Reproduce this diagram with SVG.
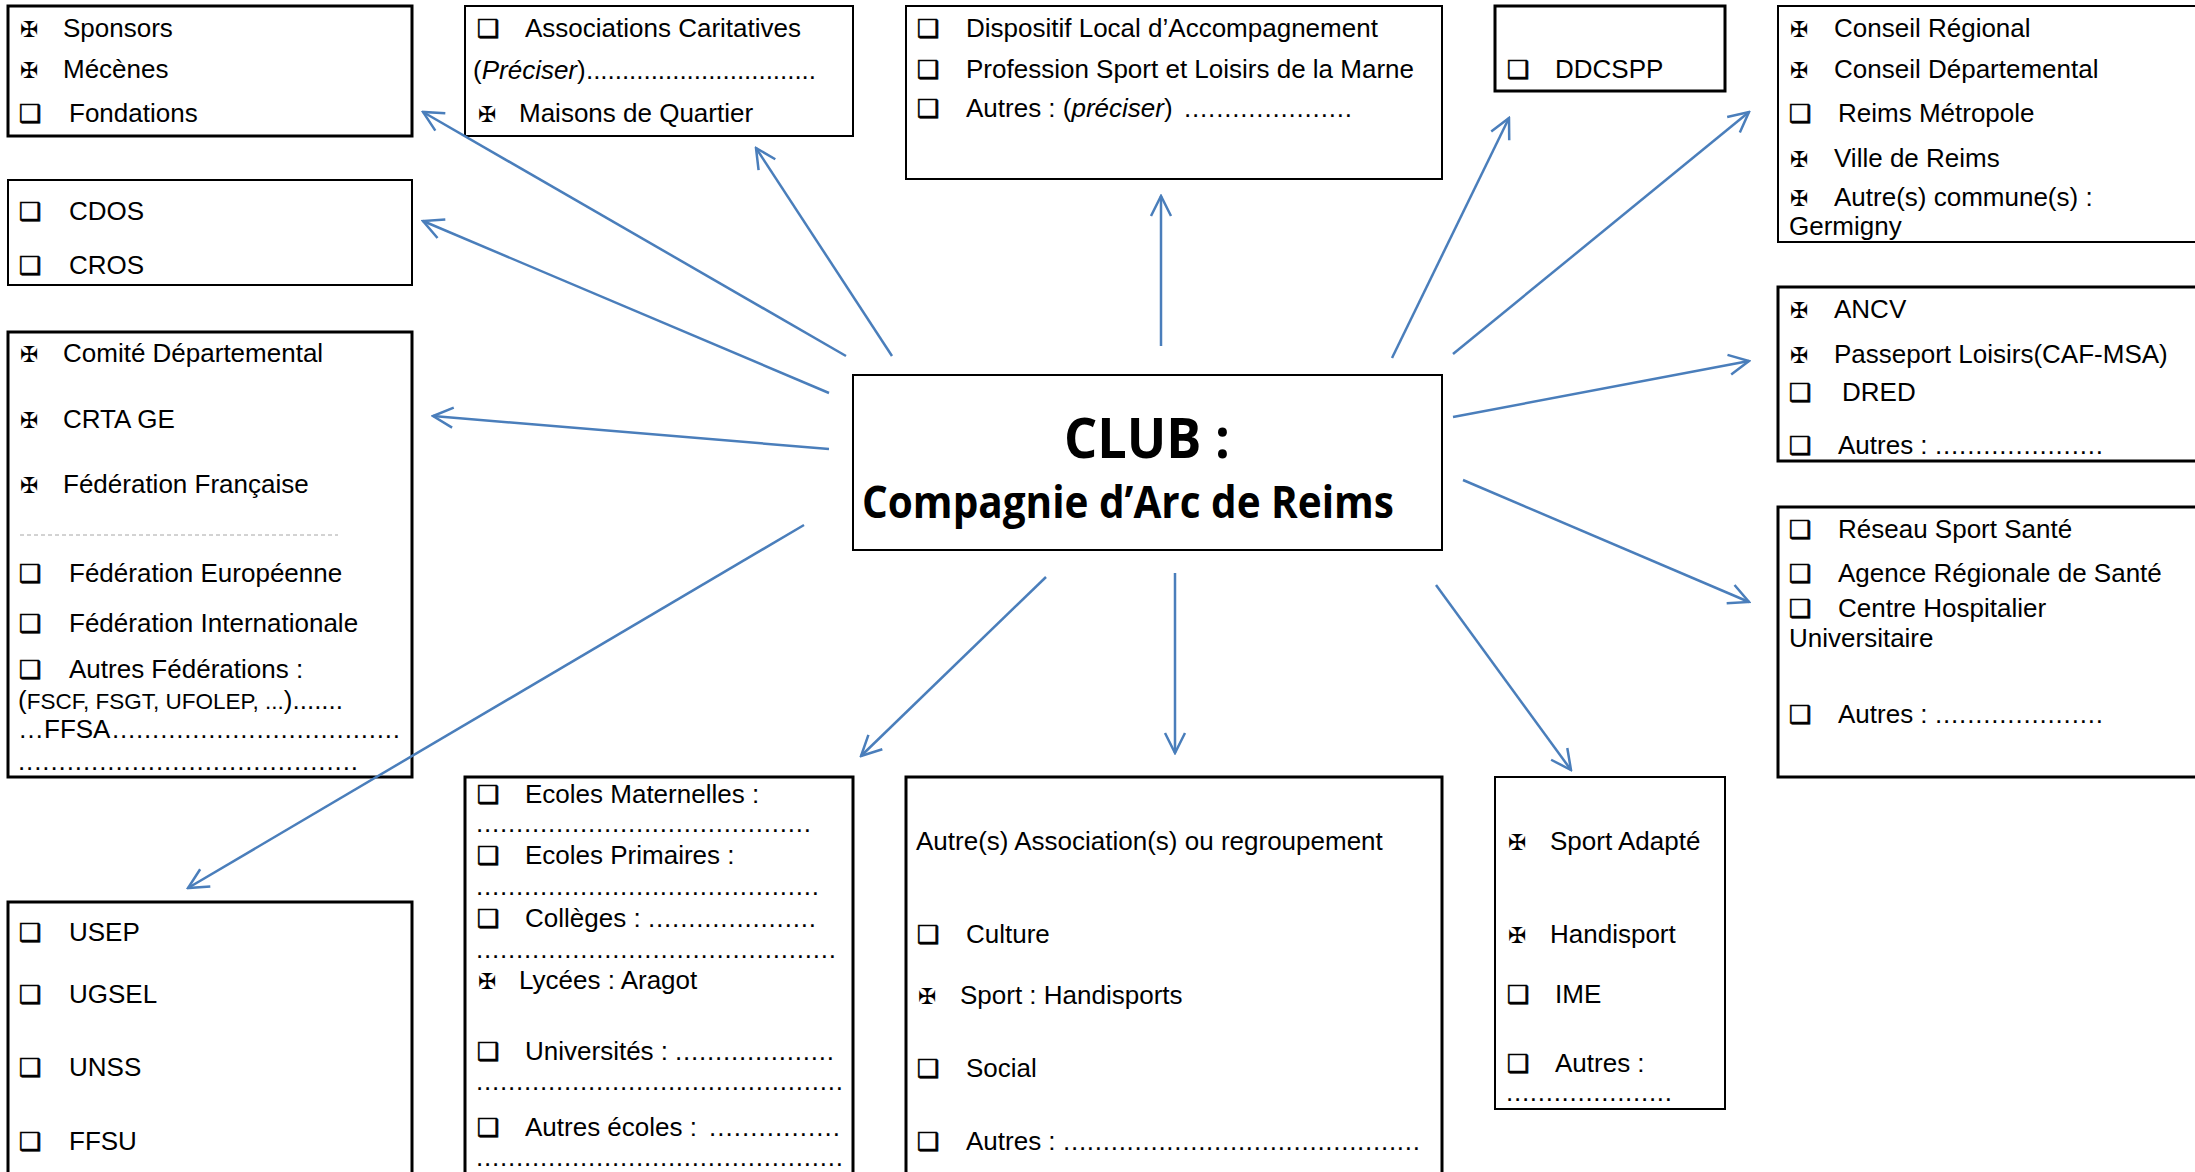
<svg xmlns="http://www.w3.org/2000/svg" width="2195" height="1172" viewBox="0 0 2195 1172">
<style>
.t{font-family:"Liberation Sans",Arial,sans-serif;font-size:26px;fill:#000}
.b{font-family:"DejaVu Sans",sans-serif;font-size:22px;fill:#000}
.q{font-family:"DejaVu Sans",sans-serif;font-size:25px;fill:#000;stroke:#000;stroke-width:0.6}
.box{fill:#fff;stroke:#000;stroke-width:2}
.thick{stroke-width:3}
.conn{stroke:#4A7EBB;stroke-width:2.5;fill:none;marker-end:url(#arr)}
.club{font-family:"Open Sans","Liberation Sans",sans-serif;font-weight:bold;fill:#000}
</style>
<defs>
<marker id="arr" viewBox="0 0 24 24" refX="22" refY="12" markerWidth="24" markerHeight="24" markerUnits="userSpaceOnUse" orient="auto">
<path d="M2,2 L22,12 L2,22" fill="none" stroke="#4A7EBB" stroke-width="2.5"/>
</marker>
</defs>
<rect width="2195" height="1172" fill="#fff"/>

<g id="sponsors">
<rect class="box thick" x="8" y="6" width="404" height="130"/>
<text class="b" x="20" y="37">✠</text><text class="t" x="63" y="37">Sponsors</text>
<text class="b" x="20" y="78">✠</text><text class="t" x="63" y="78">Mécènes</text>
<text class="q" x="19" y="122">❑</text><text class="t" x="69" y="122">Fondations</text>
</g>

<g id="cdos">
<rect class="box" x="8" y="180" width="404" height="105"/>
<text class="q" x="19" y="220">❑</text><text class="t" x="69" y="220">CDOS</text>
<text class="q" x="19" y="274">❑</text><text class="t" x="69" y="274">CROS</text>
</g>

<g id="federations">
<rect class="box thick" x="8" y="332" width="404" height="445"/>
<text class="b" x="20" y="362">✠</text><text class="t" x="63" y="362">Comité Départemental</text>
<text class="b" x="20" y="428">✠</text><text class="t" x="63" y="428">CRTA GE</text>
<text class="b" x="20" y="493">✠</text><text class="t" x="63" y="493">Fédération Française</text>
<line x1="20" y1="535" x2="338" y2="535" stroke="#a6a6a6" stroke-width="1" stroke-dasharray="4,3"/>
<text class="q" x="19" y="582">❑</text><text class="t" x="69" y="582">Fédération Européenne</text>
<text class="q" x="19" y="632">❑</text><text class="t" x="69" y="632">Fédération Internationale</text>
<text class="q" x="19" y="678">❑</text><text class="t" x="69" y="678">Autres Fédérations :</text>
<text class="t" x="18" y="709">(<tspan font-size="22.5">FSCF, FSGT, UFOLEP, ...</tspan>).......</text>
<text class="t" x="18" y="738">…FFSA</text><text class="t" x="112" y="738" textLength="288">....................................</text>
<text class="t" x="18" y="770" textLength="340">..........................................</text>
</g>

<g id="scolaire-federations">
<rect class="box thick" x="8" y="902" width="404" height="290"/>
<text class="q" x="19" y="941">❑</text><text class="t" x="69" y="941">USEP</text>
<text class="q" x="19" y="1003">❑</text><text class="t" x="69" y="1003">UGSEL</text>
<text class="q" x="19" y="1076">❑</text><text class="t" x="69" y="1076">UNSS</text>
<text class="q" x="19" y="1150">❑</text><text class="t" x="69" y="1150">FFSU</text>
</g>

<g id="associations">
<rect class="box" x="465" y="6" width="388" height="130"/>
<text class="q" x="477" y="37">❑</text><text class="t" x="525" y="37">Associations Caritatives</text>
<text class="t" x="473" y="79">(<tspan font-style="italic">Préciser</tspan>)</text><text class="t" x="586" y="79" textLength="230">................................</text>
<text class="b" x="478" y="122">✠</text><text class="t" x="519" y="122">Maisons de Quartier</text>
</g>

<g id="dispositif">
<rect class="box" x="906" y="6" width="536" height="173"/>
<text class="q" x="917" y="37">❑</text><text class="t" x="966" y="37">Dispositif Local d’Accompagnement</text>
<text class="q" x="917" y="78">❑</text><text class="t" x="966" y="78">Profession Sport et Loisirs de la Marne</text>
<text class="q" x="917" y="117">❑</text><text class="t" x="966" y="117">Autres : (<tspan font-style="italic">préciser</tspan>)</text><text class="t" x="1184" y="117" textLength="168">.....................</text>
</g>

<g id="ddcspp">
<rect class="box thick" x="1495" y="6" width="230" height="85"/>
<text class="q" x="1507" y="78">❑</text><text class="t" x="1555" y="78">DDCSPP</text>
</g>

<g id="collectivites">
<rect class="box" x="1778" y="6" width="430" height="236"/>
<text class="b" x="1790" y="37">✠</text><text class="t" x="1834" y="37">Conseil Régional</text>
<text class="b" x="1790" y="78">✠</text><text class="t" x="1834" y="78">Conseil Départemental</text>
<text class="q" x="1789" y="122">❑</text><text class="t" x="1838" y="122">Reims Métropole</text>
<text class="b" x="1790" y="167">✠</text><text class="t" x="1834" y="167">Ville de Reims</text>
<text class="b" x="1790" y="206">✠</text><text class="t" x="1834" y="206">Autre(s) commune(s) :</text>
<text class="t" x="1789" y="235">Germigny</text>
</g>

<g id="ancv">
<rect class="box thick" x="1778" y="287" width="430" height="174"/>
<text class="b" x="1790" y="318">✠</text><text class="t" x="1834" y="318">ANCV</text>
<text class="b" x="1790" y="363">✠</text><text class="t" x="1834" y="363">Passeport Loisirs(CAF-MSA)</text>
<text class="q" x="1789" y="401">❑</text><text class="t" x="1842" y="401">DRED</text>
<text class="q" x="1789" y="454">❑</text><text class="t" x="1838" y="454">Autres : </text><text class="t" x="1935" y="454" textLength="168">.....................</text>
</g>

<g id="sante">
<rect class="box thick" x="1778" y="507" width="430" height="270"/>
<text class="q" x="1789" y="538">❑</text><text class="t" x="1838" y="538">Réseau Sport Santé</text>
<text class="q" x="1789" y="582">❑</text><text class="t" x="1838" y="582">Agence Régionale de Santé</text>
<text class="q" x="1789" y="617">❑</text><text class="t" x="1838" y="617">Centre Hospitalier</text>
<text class="t" x="1789" y="647">Universitaire</text>
<text class="q" x="1789" y="723">❑</text><text class="t" x="1838" y="723">Autres : </text><text class="t" x="1935" y="723" textLength="168">.....................</text>
</g>

<g id="club">
<rect class="box" x="853" y="375" width="589" height="175"/>
<text class="club" x="1064" y="458" font-size="56" textLength="166" lengthAdjust="spacingAndGlyphs">CLUB :</text>
<text class="club" x="862" y="518" font-size="44" textLength="532" lengthAdjust="spacingAndGlyphs">Compagnie d’Arc de Reims</text>
</g>

<g id="ecoles">
<rect class="box thick" x="465" y="777" width="388" height="420"/>
<text class="q" x="477" y="803">❑</text><text class="t" x="525" y="803">Ecoles Maternelles :</text>
<text class="t" x="476" y="832" textLength="335">..........................................</text>
<text class="q" x="477" y="864">❑</text><text class="t" x="525" y="864">Ecoles Primaires :</text>
<text class="t" x="476" y="895" textLength="343">...........................................</text>
<text class="q" x="477" y="927">❑</text><text class="t" x="525" y="927">Collèges : </text><text class="t" x="648" y="927" textLength="168">.....................</text>
<text class="t" x="476" y="958" textLength="360">.............................................</text>
<text class="b" x="478" y="989">✠</text><text class="t" x="519" y="989">Lycées : Aragot</text>
<text class="q" x="477" y="1060">❑</text><text class="t" x="525" y="1060">Universités : </text><text class="t" x="675" y="1060" textLength="159">....................</text>
<text class="t" x="476" y="1090" textLength="367">..............................................</text>
<text class="q" x="477" y="1136">❑</text><text class="t" x="525" y="1136">Autres écoles : </text><text class="t" x="709" y="1136" textLength="131">................</text>
<text class="t" x="476" y="1166" textLength="367">..............................................</text>
</g>

<g id="autres-associations">
<rect class="box thick" x="906" y="777" width="536" height="420"/>
<text class="t" x="916" y="850">Autre(s) Association(s) ou regroupement</text>
<text class="q" x="917" y="943">❑</text><text class="t" x="966" y="943">Culture</text>
<text class="b" x="918" y="1004">✠</text><text class="t" x="960" y="1004">Sport : Handisports</text>
<text class="q" x="917" y="1077">❑</text><text class="t" x="966" y="1077">Social</text>
<text class="q" x="917" y="1150">❑</text><text class="t" x="966" y="1150">Autres : </text><text class="t" x="1063" y="1150" textLength="357">.............................................</text>
</g>

<g id="handicap">
<rect class="box" x="1495" y="777" width="230" height="332"/>
<text class="b" x="1508" y="850">✠</text><text class="t" x="1550" y="850">Sport Adapté</text>
<text class="b" x="1508" y="943">✠</text><text class="t" x="1550" y="943">Handisport</text>
<text class="q" x="1507" y="1003">❑</text><text class="t" x="1555" y="1003">IME</text>
<text class="q" x="1507" y="1072">❑</text><text class="t" x="1555" y="1072">Autres :</text>
<text class="t" x="1506" y="1101" textLength="166">.....................</text>
</g>

<g id="connectors">
<line class="conn" x1="846" y1="356" x2="423" y2="112"/>
<line class="conn" x1="829" y1="393" x2="423" y2="221"/>
<line class="conn" x1="829" y1="449" x2="433" y2="416"/>
<line class="conn" x1="804" y1="525" x2="188" y2="888"/>
<line class="conn" x1="892" y1="356" x2="756" y2="148"/>
<line class="conn" x1="1161" y1="346" x2="1161" y2="196"/>
<line class="conn" x1="1392" y1="358" x2="1509" y2="118"/>
<line class="conn" x1="1453" y1="354" x2="1749" y2="112"/>
<line class="conn" x1="1453" y1="417" x2="1749" y2="361"/>
<line class="conn" x1="1463" y1="480" x2="1749" y2="602"/>
<line class="conn" x1="1436" y1="585" x2="1571" y2="770"/>
<line class="conn" x1="1175" y1="573" x2="1175" y2="753"/>
<line class="conn" x1="1046" y1="577" x2="861" y2="756"/>
</g>
</svg>
